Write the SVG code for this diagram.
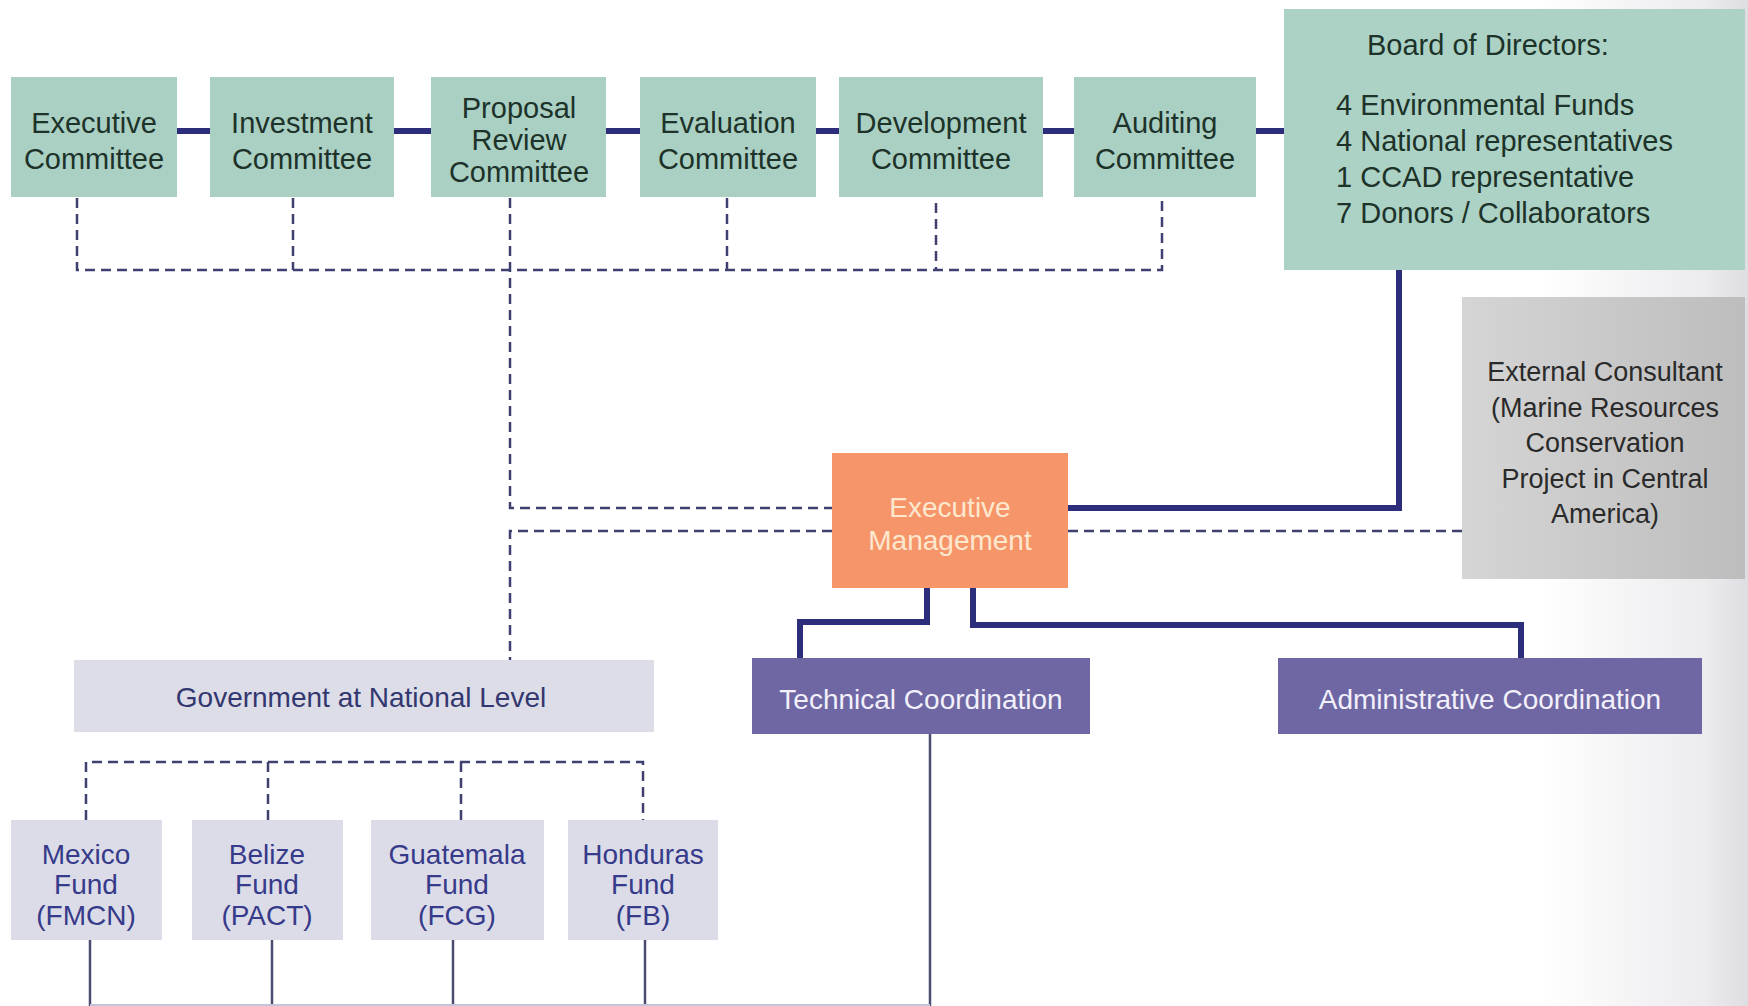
<svg xmlns="http://www.w3.org/2000/svg" width="1748" height="1006" viewBox="0 0 1748 1006">
<defs>
<linearGradient id="bg" x1="0" y1="0" x2="1" y2="0">
<stop offset="0" stop-color="#ffffff"/>
<stop offset="0.88" stop-color="#ffffff"/>
<stop offset="0.975" stop-color="#ececef"/>
<stop offset="1" stop-color="#dedee2"/>
</linearGradient>
<linearGradient id="ext" x1="0" y1="0" x2="1" y2="0">
<stop offset="0" stop-color="#d5d5d5"/>
<stop offset="1" stop-color="#bdbdbd"/>
</linearGradient>
<style>
.cm{fill:#a9d0c3}
.t{font-family:"Liberation Sans",Arial,sans-serif}
.ct{font-size:29px;fill:#1d3229;text-anchor:middle}
.thick{fill:none;stroke:#2c2e7b;stroke-width:6}
.dash{fill:none;stroke:#3e406f;stroke-width:2.5;stroke-dasharray:10 6}
.thin{fill:none;stroke:#4b4c72;stroke-width:2.5}
.fund{fill:#dcdce8}
.ft{font-size:28px;fill:#363a8a;text-anchor:middle}
.coord{fill:#6e67a4}
.cot{font-size:28px;fill:#f2f0fa;text-anchor:middle}
</style>
</defs>
<rect width="1748" height="1006" fill="url(#bg)"/>
<g id="connectors">
<path class="thick" d="M177 131 H1284"/>
<path class="thick" d="M1399 270 V508 H1068"/>
<path class="thick" d="M927 588 V622 H800 V658"/>
<path class="thick" d="M973 588 V625 H1521 V658"/>
<path class="dash" d="M77 198 V270 H1162 V198"/>
<path class="dash" d="M293 198 V270"/>
<path class="dash" d="M727 198 V270"/>
<path class="dash" d="M936 203 V270"/>
<path class="dash" d="M510 198 V508 H832"/>
<path class="dash" d="M832 531 H510 V660"/>
<path class="dash" d="M1068 531 H1462"/>
<path class="dash" d="M86 820 V762 H643 V820"/>
<path class="dash" d="M268 762 V820"/>
<path class="dash" d="M461 762 V820"/>
<path class="thin" d="M930 734 V1006"/>
<path class="thin" d="M90 940 V1006"/>
<path class="thin" d="M272 940 V1006"/>
<path class="thin" d="M453 940 V1006"/>
<path class="thin" d="M645 940 V1006"/>
<path d="M90 1005 H930" fill="none" stroke="#c3c5d6" stroke-width="2"/>
</g>
<g id="executive-committee">
<rect class="cm" x="11" y="77" width="166" height="120"/>
<text class="t ct" x="94" y="133">Executive</text>
<text class="t ct" x="94" y="169">Committee</text>
</g>
<g id="investment-committee">
<rect class="cm" x="210" y="77" width="184" height="120"/>
<text class="t ct" x="302" y="133">Investment</text>
<text class="t ct" x="302" y="169">Committee</text>
</g>
<g id="proposal-review-committee">
<rect class="cm" x="431" y="77" width="175" height="120"/>
<text class="t ct" x="519" y="118">Proposal</text>
<text class="t ct" x="519" y="150">Review</text>
<text class="t ct" x="519" y="182">Committee</text>
</g>
<g id="evaluation-committee">
<rect class="cm" x="640" y="77" width="176" height="120"/>
<text class="t ct" x="728" y="133">Evaluation</text>
<text class="t ct" x="728" y="169">Committee</text>
</g>
<g id="development-committee">
<rect class="cm" x="839" y="77" width="204" height="120"/>
<text class="t ct" x="941" y="133">Development</text>
<text class="t ct" x="941" y="169">Committee</text>
</g>
<g id="auditing-committee">
<rect class="cm" x="1074" y="77" width="182" height="120"/>
<text class="t ct" x="1165" y="133">Auditing</text>
<text class="t ct" x="1165" y="169">Committee</text>
</g>
<g id="board-of-directors">
<rect x="1284" y="9" width="461" height="261" fill="#abd2c5"/>
<g class="t" font-size="29" fill="#1d3229">
<text x="1367" y="55">Board of Directors:</text>
<text x="1336" y="115">4 Environmental Funds</text>
<text x="1336" y="151">4 National representatives</text>
<text x="1336" y="187">1 CCAD representative</text>
<text x="1336" y="223">7 Donors / Collaborators</text>
</g>
</g>
<g id="external-consultant">
<rect x="1462" y="297" width="283" height="282" fill="url(#ext)"/>
<g class="t" font-size="27" fill="#2a2a2a" text-anchor="middle">
<text x="1605" y="381">External Consultant</text>
<text x="1605" y="417">(Marine Resources</text>
<text x="1605" y="452">Conservation</text>
<text x="1605" y="488">Project in Central</text>
<text x="1605" y="523">America)</text>
</g>
</g>
<g id="executive-management">
<rect x="832" y="453" width="236" height="135" fill="#f6956a"/>
<text class="t" x="950" y="517" font-size="28" fill="#fde8cf" text-anchor="middle">Executive</text>
<text class="t" x="950" y="550" font-size="28" fill="#fde8cf" text-anchor="middle">Management</text>
</g>
<g id="technical-coordination">
<rect class="coord" x="752" y="658" width="338" height="76"/>
<text class="t cot" x="921" y="709">Technical Coordination</text>
</g>
<g id="administrative-coordination">
<rect class="coord" x="1278" y="658" width="424" height="76"/>
<text class="t cot" x="1490" y="709">Administrative Coordination</text>
</g>
<g id="government-national-level">
<rect x="74" y="660" width="580" height="72" fill="#dddde8"/>
<text class="t" x="361" y="707" font-size="28" fill="#33376f" text-anchor="middle">Government at National Level</text>
</g>
<g id="mexico-fund">
<rect class="fund" x="11" y="820" width="151" height="120"/>
<text class="t ft" x="86" y="864">Mexico</text>
<text class="t ft" x="86" y="894">Fund</text>
<text class="t ft" x="86" y="925">(FMCN)</text>
</g>
<g id="belize-fund">
<rect class="fund" x="192" y="820" width="151" height="120"/>
<text class="t ft" x="267" y="864">Belize</text>
<text class="t ft" x="267" y="894">Fund</text>
<text class="t ft" x="267" y="925">(PACT)</text>
</g>
<g id="guatemala-fund">
<rect class="fund" x="371" y="820" width="173" height="120"/>
<text class="t ft" x="457" y="864">Guatemala</text>
<text class="t ft" x="457" y="894">Fund</text>
<text class="t ft" x="457" y="925">(FCG)</text>
</g>
<g id="honduras-fund">
<rect class="fund" x="568" y="820" width="150" height="120"/>
<text class="t ft" x="643" y="864">Honduras</text>
<text class="t ft" x="643" y="894">Fund</text>
<text class="t ft" x="643" y="925">(FB)</text>
</g>
</svg>
